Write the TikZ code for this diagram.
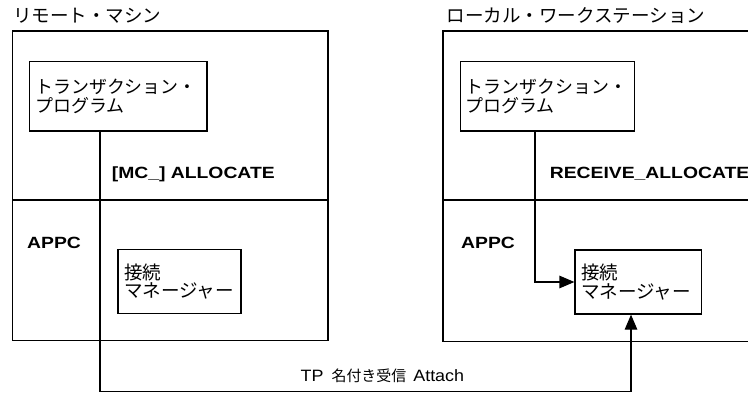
\documentclass[tikz,border=0pt]{standalone}
\usepackage{fontspec}
\setmainfont{Liberation Sans}
\newfontfamily\lbold{Liberation Sans Bold}[FakeStretch=1.19]
\newfontfamily\lreg{Liberation Sans}[FakeStretch=1.09]
\newfontfamily\jp{Noto Sans CJK JP}
\usetikzlibrary{arrows.meta}
\tikzset{
  ln/.style={line width=1.2bp, black},
  boxnode/.style={draw, line width=1.2bp, inner xsep=6bp, inner ysep=0pt, align=left, anchor=center},
  jptxt/.style={font=\jp\fontsize{18}{19.5}\selectfont},
  boldlbl/.style={font=\lbold\fontsize{16.3}{18}\selectfont, inner sep=0pt, anchor=base west},
  ttl/.style={font=\jp\fontsize{18.6}{20}\selectfont, inner sep=0pt, anchor=west},
  tip/.style={-{Triangle[length=15bp,width=12.5bp]}}
}
\begin{document}
\begin{tikzpicture}[x=1bp,y=-1bp]
\useasboundingbox (0,0) rectangle (748,394);
% titles
\node[ttl] (ltitle) at (13,15.8) {リモート・マシン};
\node[ttl] (rtitle) at (446.5,15.8) {ローカル・ワークステーション};
% left outer box
\node[draw, line width=1.2bp, minimum width=315.3bp, minimum height=309.7bp, inner sep=0pt] (louter) at (170.35,185.85) {};
\draw[ln] (12.7,200) coordinate (ldl) -- (328,200) coordinate (ldr);
% right outer box (open at the right edge)
\coordinate (rtr) at (748,31);
\coordinate (rbr) at (748,341.7);
\draw[ln] (rtr) -- (443,31) -- (443,341.7) -- (rbr);
\draw[ln] (443,200) coordinate (rdl) -- (748,200) coordinate (rdr);
% transaction program boxes
\node[boxnode, jptxt, minimum width=177.7bp, minimum height=69.3bp, text width=165.7bp] (ltp) at (118.15,96.35) {トランザクション・\\プログラム};
\node[boxnode, jptxt, inner xsep=5bp, minimum width=174bp, minimum height=69.3bp, text width=164bp] (rtp) at (547.7,96.35) {トランザクション・\\プログラム};
% connection manager boxes
\node[boxnode, jptxt, font=\jp\fontsize{18.6}{18.5}\selectfont, minimum width=123bp, minimum height=64bp, text width=111bp] (lcm) at (179.5,281.3) {接続\\マネージャー};
\node[boxnode, jptxt, font=\jp\fontsize{18.6}{18.5}\selectfont, minimum width=126.3bp, minimum height=64bp, text width=114.3bp] (rcm) at (638.15,282) {接続\\マネージャー};
% labels
\node[boldlbl] (lalloc) at (111.7,178.3) {[MC\_] ALLOCATE};
\node[boldlbl] (ralloc) at (549.7,178.3) {RECEIVE\_ALLOCATE};
\node[boldlbl] (lappc) at (27,248.3) {APPC};
\node[boldlbl] (rappc) at (461,248.3) {APPC};
\node[inner sep=0pt, anchor=base west] (attach) at (300.5,381) {{\lreg\fontsize{16.5}{18}\selectfont TP}\hspace{8bp}{\jp\fontsize{15}{18}\selectfont 名付き受信}\hspace{7bp}{\lreg\fontsize{16.5}{18}\selectfont Attach}};
% connectors
\coordinate (lb) at (100,391.7);
\coordinate (rb) at (631,391.7);
\draw[ln, tip] (ltp.south -| lb) -- (lb) -- (rb) -- (rcm.south -| rb);
\draw[ln, tip] (rtp.south -| 535,0) |- (rcm.west);
\end{tikzpicture}
\end{document}
